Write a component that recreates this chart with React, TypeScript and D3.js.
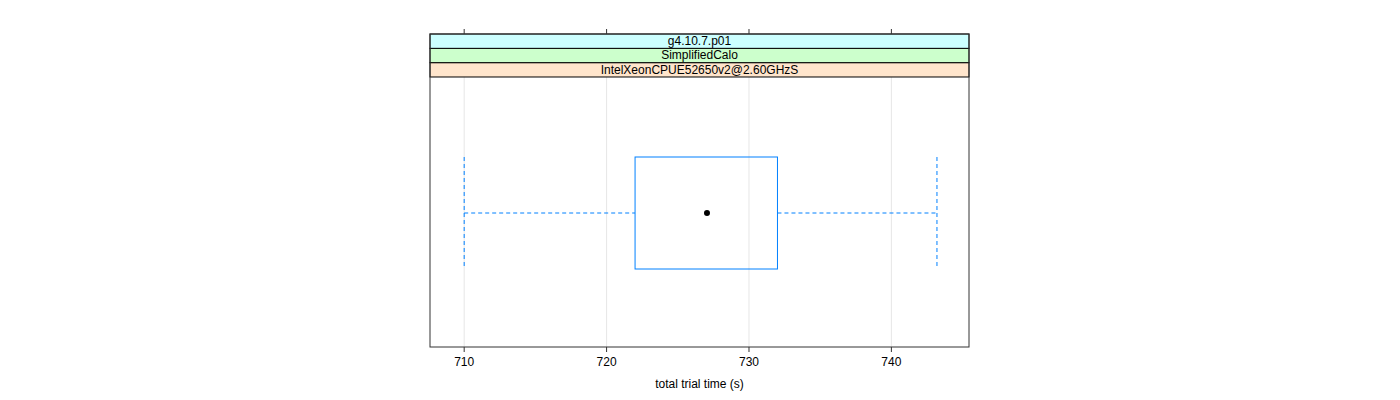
import React from "react";
import * as d3 from "d3";

const stripLabels = ["IntelXeonCPUE52650v2@2.60GHzS", "SimplifiedCalo", "g4.10.7.p01"];
const stripColors = ["#ffe5cc", "#ccffcc", "#ccffff"];
const tickValues = [710, 720, 730, 740];
const boxStats = { low: 710, q1: 722, median: 727.05, q3: 732, high: 743.2 };
const xDomain = [707.6, 745.45];

export default function App() {
  const W = 1400, H = 400;
  const left = 430, right = 969;
  const stripTop = 34, stripH = 14.33;
  const panelTop = stripTop + stripH * 3;
  const panelBottom = 347;
  const x = d3.scaleLinear().domain(xDomain).range([left, right]);
  const yc = 213, halfH = 56;
  const blue = "#0080ff";
  const font = "'Liberation Sans', Arial, sans-serif";
  return (
    <svg width={W} height={H} style={{ position: "absolute", left: 0, top: 0 }} fontFamily={font}>
      <rect x={0} y={0} width={W} height={H} fill="white" />
      {tickValues.map((t) => (
        <line key={"g" + t} x1={x(t)} x2={x(t)} y1={panelTop} y2={panelBottom} stroke="#e6e6e6" strokeWidth={1} />
      ))}
      {stripLabels.map((s, i) => {
        const y0 = stripTop + stripH * (2 - i);
        return (
          <g key={s}>
            <rect x={left} y={y0} width={right - left} height={stripH} fill={stripColors[i]} stroke="black" strokeWidth={1} />
            <text x={(left + right) / 2} y={y0 + stripH / 2 + 4} textAnchor="middle" fontSize={12} fill="black">{s}</text>
          </g>
        );
      })}
      {/* whiskers */}
      <line x1={x(boxStats.low)} x2={x(boxStats.q1)} y1={yc} y2={yc} stroke={blue} strokeDasharray="4,3" />
      <line x1={x(boxStats.q3)} x2={x(boxStats.high)} y1={yc} y2={yc} stroke={blue} strokeDasharray="4,3" />
      <line x1={x(boxStats.low)} x2={x(boxStats.low)} y1={yc - halfH} y2={yc + halfH} stroke={blue} strokeDasharray="4,3" />
      <line x1={x(boxStats.high)} x2={x(boxStats.high)} y1={yc - halfH} y2={yc + halfH} stroke={blue} strokeDasharray="4,3" />
      <rect x={x(boxStats.q1)} y={yc - halfH} width={x(boxStats.q3) - x(boxStats.q1)} height={halfH * 2} fill="none" stroke={blue} strokeWidth={1} />
      <circle cx={x(boxStats.median)} cy={yc} r={3} fill="black" />
      {/* panel border */}
      <rect x={left} y={stripTop} width={right - left} height={panelBottom - stripTop} fill="none" stroke="#333" strokeWidth={1} />
      {tickValues.map((t) => (
        <g key={"t" + t}>
          <line x1={x(t)} x2={x(t)} y1={panelBottom} y2={panelBottom + 5} stroke="#333" />
          <line x1={x(t)} x2={x(t)} y1={stripTop} y2={stripTop - 5} stroke="#333" />
          <text x={x(t)} y={366} textAnchor="middle" fontSize={12} fill="black">{t}</text>
        </g>
      ))}
      <text x={(left + right) / 2} y={388} textAnchor="middle" fontSize={12} fill="black">total trial time (s)</text>
    </svg>
  );
}
